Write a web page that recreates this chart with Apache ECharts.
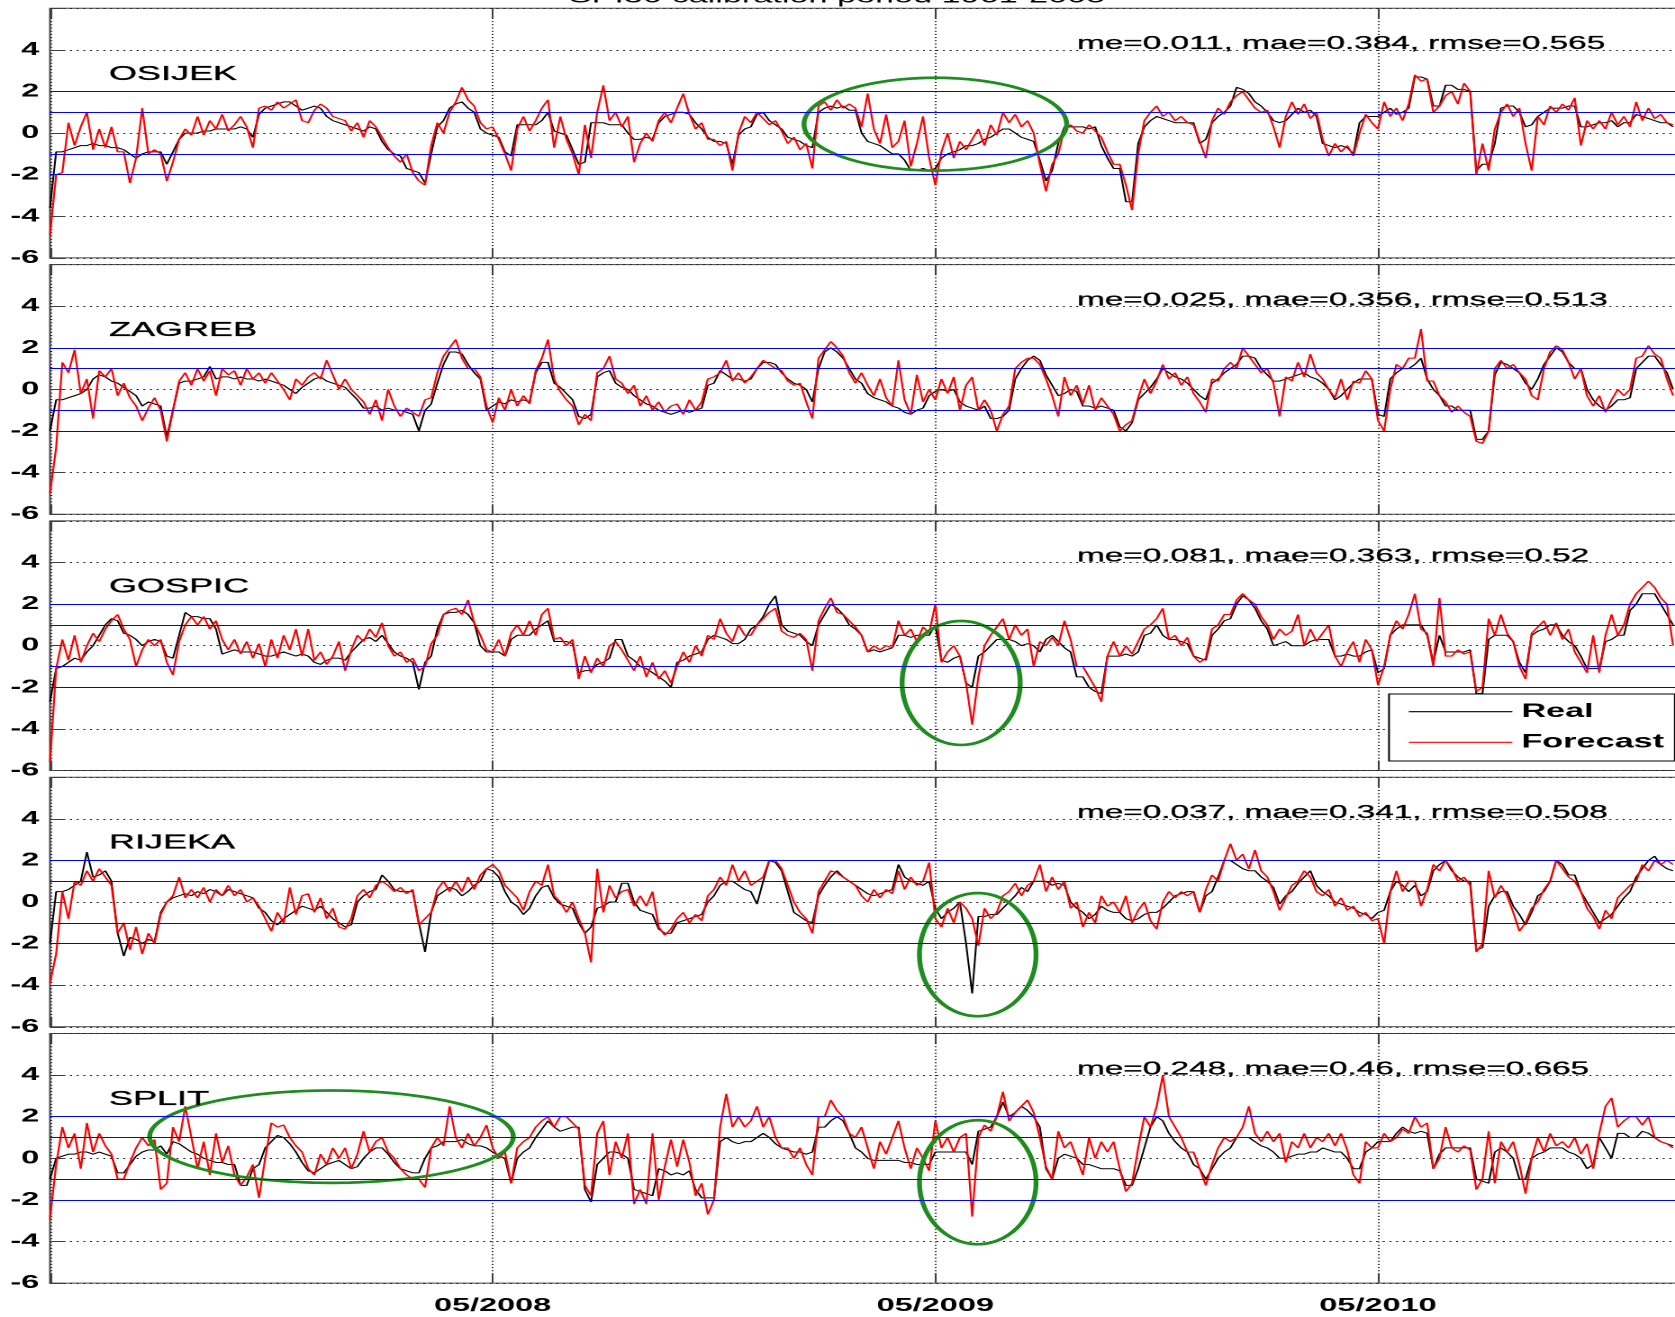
<!DOCTYPE html>
<html>
<head>
<meta charset="utf-8">
<script src="https://cdn.jsdelivr.net/npm/echarts@6/dist/echarts.min.js"></script>
<style>
  html, body { margin: 0; padding: 0; background: #fff; overflow: hidden; width: 1675px; height: 1317px; }
  /* the figure is laid out narrow and stretched sideways, like the wide original plot;
     it is a little wider than the page so the right frame falls outside */
  #chart { position: absolute; left: 0; top: 0; width: 940px; height: 1317px;
           transform: scaleX(1.8010753); transform-origin: 0 0; }
</style>
</head>
<body>
<div id="chart"></div>
<script>
// ---- sampling: six values per month, first sample at 05/2007 ----
const START_YEAR = 2007;
const START_MONTH = 5;
const STEPS_PER_MONTH = 6;
const X_MAX = 44.15;                    // axis end, just past the last sample (01/2011)

const stations = ['OSIJEK', 'ZAGREB', 'GOSPIC', 'RIJEKA', 'SPLIT'];
const scores = [
  'me=0.011, mae=0.384, rmse=0.565',
  'me=0.025, mae=0.356, rmse=0.513',
  'me=0.081, mae=0.363, rmse=0.52',
  'me=0.037, mae=0.341, rmse=0.508',
  'me=0.248, mae=0.46, rmse=0.665'
];
const titleText = 'SPI30 calibration period 1961-2005';
const yTicks = [-6, -4, -2, 0, 2, 4];
const xTickMonths = [12, 24, 36];       // 05/2008, 05/2009, 05/2010
const thresholds = [2, 1, -1, -2];

// ---- SPI30 series (one row per month) ----
const realOsijek = [
  -3.6,-0.9,-0.9,-0.8,-0.7,-0.6,
  -0.6,-0.5,-0.6,-0.6,-0.7,-0.7,
  -0.8,-1.0,-1.2,-1.0,-0.9,-0.9,
  -0.9,-1.5,-0.9,-0.3,0.0,0.0,
  0.0,0.1,0.1,0.2,0.2,0.2,
  0.2,0.3,0.2,-0.2,0.9,1.2,
  1.3,1.4,1.5,1.5,1.3,1.1,
  1.2,1.3,1.2,0.8,0.6,0.5,
  0.4,0.3,0.2,0.1,0.3,0.2,
  -0.4,-0.8,-1.0,-1.1,-1.7,-1.8,
  -1.9,-2.4,-1.0,0.3,0.6,1.2,
  1.4,1.5,1.2,1.0,0.2,0.0,
  -0.1,-0.2,-0.9,-1.1,0.4,0.4,
  0.4,0.4,0.6,1.0,0.1,0.0,
  -0.1,-0.8,-1.5,-1.4,0.5,0.5,
  0.5,0.4,0.4,0.4,0.0,-0.3,
  -0.3,-0.2,-0.3,0.5,0.8,0.9,
  1.0,1.0,0.9,0.5,0.2,-0.2,
  -0.4,-0.4,-0.5,-1.5,-0.1,0.2,
  0.3,0.9,1.0,0.6,0.4,0.2,
  -0.2,-0.3,-0.4,-0.6,-0.7,1.0,
  1.2,1.3,1.2,1.3,1.1,1.1,
  0.0,-0.4,-0.5,-0.6,-0.8,-1.0,
  -1.0,-1.3,-1.8,-1.8,-1.7,-1.8,
  -1.7,-1.2,-1.0,-0.9,-0.8,-0.6,
  -0.6,-0.5,-0.3,-0.2,0.0,0.2,
  0.2,0.0,-0.2,-0.3,-0.4,-1.3,
  -2.3,-1.8,-0.5,0.3,0.3,0.3,
  0.3,0.2,0.3,-0.6,-1.2,-1.7,
  -1.7,-3.3,-3.3,-0.5,0.3,0.6,
  0.8,0.7,0.6,0.5,0.5,0.5,
  0.5,-0.5,-0.3,0.5,0.8,1.0,
  1.3,2.2,2.1,1.9,1.5,1.3,
  1.0,0.6,0.5,0.6,0.9,1.2,
  1.0,1.1,0.8,-0.5,-0.6,-0.7,
  -0.6,-0.7,-1.0,0.5,0.8,0.8,
  0.8,1.0,1.2,0.9,1.0,1.2,
  2.7,2.7,2.6,1.3,1.3,2.3,
  2.3,2.1,2.1,2.0,-1.8,-1.5,
  -1.5,-0.5,1.2,1.3,1.3,1.0,
  0.3,0.4,0.8,1.0,1.2,1.2,
  1.2,1.3,1.3,0.3,0.3,0.4,
  0.5,0.5,0.6,0.3,0.5,0.5,
  0.9,0.8,0.7,0.6,0.5,0.5,
  0.3
];
const forecastOsijek = [
  -4.9,-2.0,-1.9,0.5,-0.6,0.3,
  1.0,-0.8,0.2,-0.7,0.3,-0.9,
  -0.9,-2.4,-1.2,1.2,-1.0,-0.8,
  -1.0,-2.3,-1.4,-0.3,0.2,-0.1,
  0.8,-0.1,0.6,0.2,0.9,0.1,
  0.4,0.8,0.3,-0.7,1.2,1.3,
  1.1,1.5,1.2,1.4,1.6,0.6,
  0.5,1.1,1.4,1.2,0.8,0.7,
  0.6,0.1,0.5,-0.2,0.6,0.3,
  -0.2,-0.7,-1.1,-1.4,-1.0,-1.9,
  -2.3,-2.5,-0.6,0.5,0.0,1.0,
  1.5,2.2,1.6,1.3,0.5,0.2,
  0.3,-0.3,-1.0,-1.8,0.2,0.8,
  0.1,0.6,1.2,1.6,-0.7,0.8,
  -0.3,-1.0,-2.0,0.4,-1.2,1.0,
  2.3,0.6,1.0,0.3,0.8,-1.4,
  -0.5,0.0,-0.4,0.6,1.0,0.5,
  1.2,1.9,0.9,0.2,0.5,-0.3,
  -0.3,-0.6,-0.4,-1.8,0.0,0.8,
  0.5,1.0,0.7,0.4,0.6,0.1,
  -0.5,-0.2,-0.8,-0.5,-1.7,1.3,
  1.5,1.1,1.6,1.2,1.4,1.2,
  0.3,1.9,0.2,-0.5,0.9,-0.7,
  -0.4,0.6,-1.6,-0.5,0.8,-1.2,
  -2.5,-0.9,0.0,-1.2,-0.4,-0.8,
  -0.3,0.2,-0.6,0.4,-0.1,1.0,
  0.5,0.9,0.3,0.6,0.0,-1.5,
  -2.8,-1.5,-1.0,0.2,0.4,0.1,
  0.0,0.4,0.1,-0.2,-0.9,-1.5,
  -1.5,-2.5,-3.7,-1.0,0.6,1.0,
  1.3,0.8,1.0,0.6,0.8,0.5,
  0.4,-0.4,-1.2,0.6,1.2,0.9,
  1.5,1.8,2.0,1.6,1.2,1.0,
  1.1,0.3,-0.7,0.8,1.5,0.9,
  1.4,0.7,1.0,-0.3,-1.1,-0.5,
  -0.9,-0.6,-1.1,0.0,0.9,0.5,
  0.2,1.5,0.8,1.2,0.6,1.4,
  2.8,2.5,2.6,1.0,1.3,1.8,
  2.0,1.4,2.4,2.0,-2.0,-0.5,
  -1.8,0.2,1.0,1.4,0.8,1.2,
  -0.5,-1.8,0.8,0.4,1.3,1.0,
  1.4,1.1,1.7,-0.6,0.6,0.2,
  0.6,0.2,1.0,0.4,0.8,0.3,
  1.5,0.6,1.2,0.7,0.9,0.5,
  0.4
];
const realZagreb = [
  -2.0,-0.5,-0.5,-0.4,-0.3,-0.2,
  0.0,0.5,0.7,0.6,0.4,0.3,
  0.1,-0.1,-0.3,-0.8,-0.6,-0.7,
  -0.8,-2.3,-1.0,0.3,0.4,0.4,
  0.5,0.6,1.1,0.5,0.6,0.6,
  0.5,0.6,0.5,0.5,0.4,0.5,
  0.4,0.3,0.2,0.0,-0.2,0.1,
  0.3,0.5,0.6,0.4,0.3,0.2,
  0.1,-0.2,-0.5,-0.9,-0.9,-0.8,
  -1.0,-0.9,-1.0,-1.0,-1.1,-1.2,
  -2.0,-1.0,-0.7,0.3,1.2,1.8,
  1.8,1.7,1.2,0.8,0.5,-1.0,
  -0.8,-0.6,-0.7,-0.5,-0.6,-0.5,
  -0.6,0.8,1.3,1.3,0.3,0.1,
  -0.2,-0.5,-1.3,-1.4,-1.2,0.6,
  0.8,0.9,0.3,0.1,0.0,-0.3,
  -0.5,-0.7,-0.8,-1.0,-1.1,-1.2,
  -1.1,-1.0,-1.1,-1.0,-0.9,0.2,
  0.3,0.9,0.7,0.5,0.5,0.4,
  0.5,1.0,1.3,1.3,1.2,0.8,
  0.5,0.3,0.2,0.0,-0.6,1.0,
  1.8,2.0,1.8,1.5,1.0,0.5,
  0.3,-0.2,-0.4,-0.5,-0.6,-0.8,
  -0.9,-1.1,-1.2,-1.0,-0.9,-0.3,
  -0.1,0.0,-0.1,0.0,-0.6,-0.8,
  -0.9,-1.0,-0.8,-1.4,-1.4,-1.3,
  -1.0,0.5,1.0,1.4,1.6,1.4,
  0.7,0.2,-0.3,-0.2,0.0,-0.1,
  -0.8,-0.8,-0.9,-0.8,-0.9,-1.0,
  -1.8,-2.0,-1.6,-0.5,-0.2,0.1,
  0.5,1.0,0.8,0.6,0.5,0.3,
  0.0,-0.3,-0.5,0.3,0.5,0.8,
  1.0,1.2,1.6,1.6,1.5,1.0,
  0.7,0.4,0.4,0.5,0.6,0.7,
  0.8,0.6,0.5,0.3,0.0,-0.5,
  -0.3,0.0,0.3,0.5,0.5,0.5,
  -1.2,-1.3,0.5,0.8,1.0,1.0,
  1.2,1.5,0.5,0.0,-0.3,-0.8,
  -0.8,-1.0,-1.0,-1.0,-2.4,-2.4,
  -2.0,0.7,1.3,1.2,1.0,0.8,
  0.3,0.0,0.5,1.2,1.6,2.0,
  1.8,1.3,1.0,1.0,0.0,-0.5,
  -0.8,-1.0,-0.8,-0.5,-0.5,-0.4,
  1.0,1.3,1.6,1.6,1.2,0.8,
  0.0
];
const forecastZagreb = [
  -5.0,-2.8,1.3,0.8,1.9,-0.2,
  0.5,-1.4,0.9,0.6,1.0,-0.3,
  0.3,-0.4,-0.8,-1.5,-0.9,-0.4,
  -1.0,-2.5,-1.0,0.4,0.8,0.2,
  1.0,0.4,0.9,-0.3,1.0,0.7,
  0.9,0.2,1.0,0.5,0.8,0.3,
  0.8,0.4,0.0,-0.5,0.5,0.2,
  0.6,0.8,0.5,1.4,0.7,0.0,
  0.5,0.0,-0.3,-0.6,-1.2,-0.5,
  -1.5,0.0,-0.8,-1.3,-0.9,-1.1,
  -1.3,-0.5,-0.4,0.8,1.6,2.0,
  2.4,1.5,1.0,1.0,0.6,-0.8,
  -1.6,-0.4,-1.0,0.0,-0.8,-0.3,
  -0.7,0.9,1.5,2.4,0.5,-0.1,
  -0.5,-0.8,-1.7,-1.2,-1.5,0.8,
  1.0,1.6,0.5,0.3,-0.2,0.2,
  -0.8,-0.3,-1.0,-0.6,-1.1,-0.8,
  -0.7,-1.2,-0.5,-1.0,-0.6,0.5,
  0.6,0.8,1.4,0.4,0.8,0.3,
  0.6,1.0,1.4,1.2,1.0,0.9,
  0.4,0.2,0.3,-0.6,-1.4,1.5,
  1.9,2.3,2.0,1.6,0.8,0.3,
  0.8,0.2,-0.3,0.5,-0.4,-0.8,
  1.4,-0.5,-1.2,0.7,-0.6,0.0,
  -0.5,0.5,-0.2,0.6,-1.0,0.2,
  0.6,-1.0,-0.5,-1.0,-2.0,-1.2,
  -0.8,1.0,1.3,1.5,1.5,1.2,
  0.5,-0.3,-1.3,0.6,-0.3,0.2,
  -0.7,0.2,-1.0,-0.4,-0.8,-1.2,
  -2.0,-1.7,-1.5,-0.4,0.5,-0.2,
  0.4,1.2,0.5,0.8,0.2,0.6,
  -0.2,-0.6,-1.1,0.5,0.4,1.0,
  1.3,1.0,2.0,1.6,1.2,0.8,
  1.0,0.3,-1.3,0.6,0.4,1.3,
  0.6,1.7,0.8,0.5,0.0,-0.4,
  0.5,-0.5,0.4,0.3,0.9,0.5,
  -1.5,-2.0,0.0,1.2,1.0,1.5,
  1.5,2.9,0.4,0.4,-0.3,-0.6,
  -1.1,-0.8,-1.1,-1.3,-2.5,-2.6,
  -2.0,1.0,1.4,1.0,1.2,0.8,
  0.5,-0.3,-0.5,1.0,1.8,2.1,
  1.9,1.3,0.5,1.0,-0.3,-0.8,
  -0.3,-1.1,-0.5,0.0,-0.3,0.0,
  1.5,1.6,2.1,1.7,1.5,0.5,
  -0.3
];
const realGospic = [
  -2.7,-1.1,-1.0,-0.8,-0.6,-0.7,
  -0.3,0.0,0.5,1.0,1.3,1.2,
  0.6,0.5,0.3,0.0,0.2,0.3,
  0.2,-0.5,-0.6,0.5,1.6,1.4,
  1.4,1.3,1.3,0.8,-0.4,-0.3,
  -0.2,-0.3,-0.3,-0.3,-0.4,-0.5,
  -0.5,-0.4,-0.3,-0.4,-0.5,-0.4,
  -0.5,-0.8,-0.9,-0.7,-0.6,-0.6,
  -0.7,-0.3,0.0,0.3,0.4,0.2,
  0.5,0.1,-0.3,-0.5,-0.6,-0.8,
  -2.1,-0.8,-0.5,0.8,1.5,1.6,
  1.6,1.7,1.5,1.1,0.0,-0.3,
  -0.3,-0.3,-0.5,0.3,0.5,0.5,
  0.5,0.8,1.0,1.2,0.2,0.2,
  0.2,0.1,-1.3,-1.2,-1.2,-0.9,
  -0.8,-0.6,0.3,0.3,-0.5,-0.7,
  -1.0,-1.1,-1.3,-1.5,-1.7,-2.0,
  -0.8,-0.7,-0.5,-0.4,-0.3,0.3,
  0.5,0.4,0.3,0.1,0.1,0.3,
  0.8,1.0,1.4,2.0,2.4,1.0,
  0.7,0.6,0.5,0.2,0.0,1.0,
  1.5,2.0,1.8,1.5,1.0,0.8,
  0.5,-0.3,-0.2,-0.3,-0.2,-0.1,
  0.5,0.5,0.4,0.5,0.5,0.5,
  1.0,-0.7,-0.8,-0.6,-0.5,-1.8,
  -2.0,-0.5,-0.3,0.0,0.3,0.3,
  0.3,0.2,0.0,0.1,0.0,-0.3,
  0.3,0.5,0.2,-0.1,-0.3,-1.5,
  -1.5,-2.0,-2.2,-2.3,-0.5,-0.5,
  -0.5,-0.4,-0.5,-0.3,0.5,0.6,
  1.0,0.5,0.3,0.3,0.2,0.1,
  -0.5,-0.6,-0.7,0.5,0.8,1.2,
  1.3,2.0,2.4,2.2,1.8,1.2,
  0.8,0.0,0.1,0.2,0.0,0.0,
  0.0,0.2,0.3,0.3,0.3,-0.5,
  -0.5,-0.4,-0.5,-0.5,-0.3,-0.2,
  -1.3,-1.1,0.5,0.8,1.0,1.0,
  1.0,1.0,0.5,-0.8,0.5,-0.3,
  -0.3,-0.3,-0.3,-0.2,-2.3,-2.3,
  0.3,0.5,0.5,0.5,0.2,-0.8,
  -1.3,0.5,0.7,0.8,1.0,1.0,
  0.5,0.2,0.0,-0.5,-1.1,-1.1,
  -1.1,0.2,0.3,0.5,0.5,1.7,
  2.0,2.5,2.5,2.5,2.0,1.5,
  1.0
];
const forecastGospic = [
  -5.6,-1.1,0.3,-0.7,0.5,-0.8,
  0.0,0.6,0.2,0.8,1.2,1.5,
  0.8,0.3,-1.0,-0.2,0.3,0.0,
  0.3,-0.8,-1.4,0.2,1.0,1.4,
  1.0,1.4,0.8,1.2,0.3,-0.2,
  0.3,-0.4,0.2,-0.6,0.1,-1.0,
  0.3,-0.6,0.5,-0.2,0.8,-0.5,
  0.8,-0.7,-0.3,-0.9,-0.5,0.2,
  -1.2,-0.2,0.5,0.2,0.8,0.4,
  1.1,0.0,-0.5,-0.3,-0.8,-0.6,
  -1.2,-1.0,0.1,0.5,1.5,1.7,
  1.8,1.5,2.2,1.1,0.5,-0.2,
  -0.3,0.3,-0.5,0.6,1.0,0.5,
  1.2,0.5,1.5,1.8,0.3,0.4,
  0.0,0.3,-1.6,-0.5,-1.3,-0.6,
  -1.0,0.0,0.2,-0.2,-0.7,-1.2,
  -0.5,-1.5,-0.8,-1.6,-1.2,-1.8,
  -1.0,-0.3,-0.8,0.0,-0.5,0.5,
  0.3,1.3,0.6,0.2,1.0,0.5,
  0.5,1.0,1.3,1.6,1.8,0.7,
  0.5,0.4,0.6,0.3,-1.2,1.2,
  1.8,2.3,1.6,1.5,1.2,0.9,
  0.5,-0.3,0.0,-0.2,0.0,-0.1,
  1.2,0.5,0.8,0.2,0.9,0.6,
  2.0,-0.8,-0.3,0.0,-0.5,-1.8,
  -3.8,-1.5,0.0,0.5,0.9,1.3,
  0.3,1.0,0.5,0.8,-1.0,0.2,
  0.0,0.4,0.0,1.2,0.3,-1.0,
  -1.0,-1.5,-2.0,-2.7,-0.5,0.2,
  -0.5,0.0,-0.4,0.2,0.8,1.0,
  1.3,1.8,0.3,0.5,0.0,0.4,
  -0.5,-0.8,-0.6,0.8,1.0,1.5,
  1.5,2.2,2.5,2.2,2.0,1.4,
  1.0,0.3,0.8,0.5,0.7,1.5,
  0.0,0.8,0.2,0.6,1.0,-0.5,
  -1.0,-0.3,0.2,-0.8,0.3,-0.2,
  -1.9,-1.0,0.5,1.2,0.8,1.5,
  2.5,0.8,0.6,-1.0,2.3,-0.5,
  -0.5,-0.2,-0.4,-0.3,-2.2,-2.0,
  1.3,0.5,1.5,0.6,0.2,-1.0,
  -1.6,0.6,0.9,1.2,0.5,1.1,
  0.3,0.8,-0.3,-0.8,-1.3,0.5,
  -1.3,0.5,1.5,0.5,1.0,2.0,
  2.5,2.8,3.1,2.8,2.3,2.0,
  0.0
];
const realRijeka = [
  -2.0,0.5,0.5,0.6,0.8,1.0,
  2.4,1.2,1.3,1.5,1.0,-1.5,
  -2.6,-1.7,-1.8,-2.0,-1.8,-1.9,
  -0.5,0.0,0.2,0.3,0.4,0.3,
  0.5,0.4,0.6,0.5,0.3,0.6,
  0.5,0.4,0.3,0.2,-0.3,-0.5,
  -0.9,-1.1,-0.8,-0.6,-0.4,-0.2,
  -0.3,-0.4,-0.2,-0.5,-0.8,-1.0,
  -1.2,-1.1,0.0,0.3,0.5,0.6,
  1.3,1.0,0.6,0.5,0.5,0.5,
  -1.0,-2.4,-0.5,0.3,0.5,0.7,
  0.6,0.3,0.5,0.8,1.0,1.6,
  1.5,1.2,0.5,0.0,-0.2,-0.6,
  -0.3,0.3,0.7,0.8,0.2,-0.1,
  -0.2,-0.3,-1.0,-1.5,-1.2,-0.3,
  -0.2,0.0,0.0,0.9,0.9,0.0,
  -0.4,-0.5,-0.6,-1.3,-1.5,-1.5,
  -1.0,-0.9,-0.8,-0.7,-0.6,0.0,
  0.3,0.8,1.0,1.0,0.8,0.6,
  0.5,-0.1,1.0,2.0,1.9,1.5,
  0.5,-0.5,-0.7,-0.9,-1.0,0.3,
  0.8,1.2,1.5,1.2,1.0,0.8,
  0.6,0.4,0.3,0.4,0.5,0.6,
  1.8,1.2,1.0,0.9,0.8,1.0,
  -0.3,-0.8,-0.5,-0.3,0.0,-2.0,
  -4.4,-0.7,-0.7,-0.6,-0.6,-0.3,
  0.0,0.3,0.7,0.5,1.0,1.0,
  1.0,0.8,0.9,0.8,0.0,-0.3,
  -0.5,-0.8,-0.6,-0.2,-0.4,-0.5,
  -0.5,-0.8,-0.9,-0.8,-0.6,-0.5,
  -0.5,-0.3,0.0,0.3,0.4,0.5,
  0.5,-0.5,0.3,0.5,1.2,2.0,
  2.0,1.8,1.6,1.5,1.5,1.2,
  1.0,0.7,-0.1,0.3,0.5,0.9,
  1.2,1.5,0.8,0.5,0.3,0.0,
  -0.1,-0.2,-0.3,-0.5,-0.6,-0.8,
  -0.5,-0.4,0.5,1.0,0.8,0.5,
  0.8,0.3,0.5,1.5,1.8,2.0,
  1.5,1.2,1.0,1.0,-2.3,-2.2,
  -0.2,0.3,0.5,0.5,-0.2,-0.6,
  -1.1,-0.5,0.3,0.5,1.0,2.0,
  1.8,1.3,1.3,0.5,0.0,-0.5,
  -1.0,-0.8,-0.6,-0.2,0.2,0.5,
  1.2,1.6,2.0,2.2,1.8,1.6,
  1.5
];
const forecastRijeka = [
  -3.9,-2.5,0.5,-0.8,1.0,0.8,
  1.5,1.0,1.6,1.2,0.8,-1.5,
  -1.0,-2.3,-1.2,-2.5,-1.5,-2.0,
  -0.6,0.0,0.3,1.2,0.2,0.6,
  0.2,0.7,0.0,0.6,0.3,0.8,
  0.3,0.6,0.0,0.2,-0.2,-0.8,
  -1.4,-0.5,-1.0,0.7,-0.6,0.3,
  0.4,-0.5,0.2,-0.8,-0.3,-1.2,
  -1.3,-0.8,0.3,0.6,0.2,0.8,
  1.0,0.8,0.5,0.7,0.4,0.6,
  -1.1,-0.8,-0.5,0.6,1.0,0.5,
  1.0,0.5,1.2,0.6,1.3,1.6,
  1.8,1.5,0.8,0.5,0.2,-0.4,
  0.5,1.0,0.8,1.8,0.3,0.0,
  -0.5,0.0,-0.8,-1.5,-2.9,1.6,
  -0.5,0.8,0.2,0.5,0.6,-0.2,
  0.3,-0.2,0.5,-1.2,-1.6,-1.3,
  -0.8,-0.5,-1.0,-0.6,-0.9,0.3,
  0.6,1.2,0.8,1.8,1.0,1.5,
  0.8,1.0,1.2,2.0,2.0,1.6,
  0.8,0.0,-0.5,-0.8,-1.5,0.5,
  1.0,1.5,1.4,1.2,1.0,0.8,
  0.3,0.0,0.6,0.2,0.6,0.4,
  1.5,0.6,1.2,0.8,1.0,1.9,
  -0.8,-1.2,-0.3,-1.0,0.0,-0.3,
  -0.8,-2.1,-0.3,-0.8,-0.5,0.3,
  0.5,0.9,0.3,0.8,1.0,1.8,
  0.5,1.2,0.6,1.0,-0.3,0.0,
  -1.2,-0.5,-1.0,0.3,-0.2,0.0,
  -0.5,0.3,-1.0,-0.4,0.0,-0.9,
  -1.3,0.0,0.5,0.2,0.5,0.3,
  0.5,-0.5,0.6,1.3,1.0,2.0,
  2.8,2.0,2.3,1.6,2.5,1.5,
  1.2,0.5,-0.4,0.2,0.8,1.0,
  1.5,1.2,0.5,0.3,0.6,-0.2,
  0.2,-0.4,-0.2,-0.7,-0.5,-0.9,
  -0.8,-2.0,0.5,1.5,0.5,1.0,
  1.0,-0.2,0.6,1.8,1.5,2.0,
  1.6,1.0,1.2,0.8,-2.4,-2.0,
  1.5,0.2,0.8,0.3,-0.5,-1.4,
  -1.0,-0.3,0.0,0.6,1.0,2.0,
  1.6,1.2,1.0,0.5,-0.3,-0.7,
  -1.3,-0.4,-0.8,0.2,0.5,0.8,
  1.0,1.8,1.5,2.0,1.8,2.0,
  1.8
];
const realSplit = [
  -1.0,0.0,0.1,0.2,0.2,0.3,
  0.3,0.2,0.3,0.2,0.1,-0.7,
  -0.7,-0.3,0.1,0.3,0.4,0.4,
  0.6,0.2,0.8,0.7,0.5,0.3,
  0.2,0.0,-0.1,-0.2,-0.2,-0.3,
  -0.3,-1.3,-1.3,-0.5,-0.3,0.5,
  0.8,1.1,1.0,0.7,0.3,-0.2,
  -0.6,-0.7,-0.5,-0.3,-0.2,-0.1,
  -0.3,-0.5,-0.4,0.0,0.3,0.5,
  0.5,0.2,-0.2,-0.5,-0.6,-0.7,
  -0.7,0.0,0.5,0.6,0.8,0.8,
  0.8,0.9,0.7,0.6,0.6,0.5,
  0.3,0.1,0.0,-1.2,0.0,0.3,
  0.5,1.0,1.4,1.8,1.5,1.3,
  1.4,1.5,1.5,-1.5,-2.1,-0.3,
  0.0,0.3,0.3,0.2,0.0,-1.5,
  -1.6,-1.7,-1.8,-0.5,-0.6,-0.8,
  -0.7,-0.8,-0.6,-1.5,-1.9,-1.9,
  -1.9,0.8,1.0,0.8,0.7,0.8,
  0.8,1.0,1.2,1.0,0.7,0.5,
  0.4,0.3,0.3,0.2,0.3,1.5,
  1.5,1.8,2.0,1.8,1.2,0.5,
  0.3,0.0,-0.1,-0.1,-0.1,-0.1,
  -0.1,-0.2,-0.2,-0.3,-0.3,-0.3,
  0.3,0.3,0.3,0.3,0.3,0.3,
  -0.3,1.3,1.4,1.5,2.0,2.7,
  2.0,2.2,2.5,2.3,2.0,1.5,
  -0.5,-1.0,0.0,0.2,0.1,0.0,
  -0.3,-0.3,-0.4,-0.5,-0.5,-0.5,
  -0.6,-1.3,-1.3,-0.5,0.5,1.5,
  2.0,1.8,1.2,0.8,0.5,0.3,
  -0.3,-0.5,-1.0,-0.5,0.0,0.3,
  0.5,1.0,1.0,1.0,0.8,0.6,
  0.5,0.3,0.0,0.0,0.1,0.2,
  0.2,0.3,0.3,0.5,0.4,0.3,
  0.3,0.0,-0.5,-0.5,0.3,0.5,
  0.8,0.8,0.8,1.2,1.5,1.3,
  1.2,1.3,1.2,-0.5,0.2,0.5,
  0.5,0.5,0.5,0.5,-1.0,-1.1,
  -1.2,0.3,0.5,0.3,0.0,-1.0,
  -1.0,0.0,0.2,0.3,0.5,0.5,
  0.5,0.3,0.2,0.0,-0.5,-0.3,
  1.0,0.5,0.0,1.2,1.2,1.0,
  1.0,1.3,1.2,1.0,0.8,0.7,
  0.6
];
const forecastSplit = [
  -2.9,-0.3,1.5,0.5,1.2,-0.5,
  1.7,0.3,1.2,0.6,0.2,-1.0,
  -1.0,-0.2,0.5,1.0,0.6,0.9,
  -1.5,-1.2,1.5,0.8,2.5,1.0,
  -0.5,0.8,-0.8,1.2,-0.2,0.6,
  -0.8,-1.3,-0.9,-0.3,-1.9,0.0,
  1.7,1.5,1.6,1.0,0.6,0.3,
  -0.5,-0.8,0.2,-0.3,0.5,0.0,
  0.5,-0.5,0.2,1.3,0.3,0.8,
  1.0,0.3,0.0,-0.5,-0.8,-1.0,
  -1.0,-1.4,0.5,1.0,0.6,2.5,
  1.0,0.5,1.2,0.6,1.0,1.6,
  0.5,0.0,0.3,-1.2,0.5,0.8,
  1.0,1.5,1.8,2.0,1.5,2.0,
  2.0,1.7,1.4,-1.3,-1.8,1.2,
  1.8,-0.8,0.8,0.0,1.2,-2.2,
  -1.5,-2.2,1.2,-2.0,-0.4,0.9,
  -0.4,0.9,-0.2,-1.8,-1.2,-2.7,
  -2.0,1.5,3.1,1.5,2.0,1.5,
  1.8,2.5,1.5,2.0,1.0,0.5,
  0.5,0.0,0.5,-0.3,-0.8,2.0,
  2.0,2.8,2.3,2.0,1.2,1.0,
  1.5,0.5,-0.5,0.8,0.2,1.0,
  1.8,0.5,-0.5,0.5,0.0,-0.6,
  1.8,0.5,1.0,0.3,1.0,1.2,
  -2.8,1.0,1.6,1.3,2.0,3.2,
  1.8,2.2,2.5,2.8,2.2,1.0,
  -0.4,-1.0,1.3,0.5,0.8,0.0,
  -0.8,1.0,0.0,0.8,0.3,0.8,
  -0.5,-1.6,-1.2,0.5,2.0,1.5,
  2.5,4.0,2.0,1.5,1.0,0.3,
  0.3,-0.5,-1.3,-0.3,0.5,1.0,
  0.8,1.0,1.5,2.5,1.2,0.8,
  1.3,0.8,1.2,-0.2,0.8,0.5,
  1.2,0.5,1.0,0.8,1.2,0.6,
  1.2,0.4,-0.8,-1.2,0.8,0.5,
  0.5,1.2,0.8,1.0,1.4,1.2,
  2.0,1.5,1.7,-0.5,0.0,1.5,
  0.5,0.3,0.6,0.4,-1.5,-1.0,
  1.3,-1.2,0.8,0.3,0.8,-0.3,
  -1.7,0.0,1.0,0.3,1.2,0.6,
  0.8,0.5,1.0,0.2,0.7,-0.5,
  1.2,2.5,2.9,1.5,1.8,2.0,
  2.0,1.6,2.0,1.0,0.8,0.7,
  0.5
];

// ---- highlighted episodes: [centre month, centre SPI, half-width (months), half-height (SPI)] ----
const ringsOsijek = [[24.0, 0.43, 3.56, 2.23]];
const ringsZagreb = [];
const ringsGospic = [[24.7, -1.79, 1.60, 2.98]];
const ringsRijeka = [[25.15, -2.53, 1.58, 2.96]];
const ringsSplit = [[7.63, 1.04, 4.93, 2.22], [25.15, -1.15, 1.58, 2.98]];

// ---- layout (css px before the sideways stretch) ----
const S = 1675 / 930;
const CHART_W = 940;
const PLOT_LEFT = 50 / S;
const PLOT_RIGHT = CHART_W - 932;       // right frame sits just past the page edge
const PANEL_TOP0 = 8.3, PANEL_STEP = 256.3, PANEL_H = 249.6;
const FONT = '"Liberation Sans", Arial, Helvetica, sans-serif';
const FRAME = '#404040';
const GRID_DOT = '#222222';
const RED = '#ff0000', BLACK = '#000000', BLUE = '#0000ff', GREEN = '#1e8c1e';

const panels = [
  { name: stations[0], score: scores[0], real: realOsijek, forecast: forecastOsijek, rings: ringsOsijek },
  { name: stations[1], score: scores[1], real: realZagreb, forecast: forecastZagreb, rings: ringsZagreb },
  { name: stations[2], score: scores[2], real: realGospic, forecast: forecastGospic, rings: ringsGospic },
  { name: stations[3], score: scores[3], real: realRijeka, forecast: forecastRijeka, rings: ringsRijeka },
  { name: stations[4], score: scores[4], real: realSplit, forecast: forecastSplit, rings: ringsSplit }
];

const toPairs = arr => arr.map((v, i) => [i / STEPS_PER_MONTH, v]);

function monthLabel(m) {
  const t = START_MONTH - 1 + Math.round(m);
  const mm = (t % 12) + 1;
  const yy = START_YEAR + Math.floor(t / 12);
  return (mm < 10 ? '0' : '') + mm + '/' + yy;
}

function renderRing(params, api) {
  const c = api.coord([api.value(0), api.value(1)]);
  const s = api.size([api.value(2), api.value(3)]);
  const pts = [];
  for (let k = 0; k <= 120; k++) {
    const t = (k / 120) * Math.PI * 2;
    pts.push([c[0] + s[0] * Math.cos(t), c[1] + s[1] * Math.sin(t)]);
  }
  return {
    type: 'polyline',
    shape: { points: pts },
    style: { fill: null, stroke: GREEN, lineWidth: 2.7 }
  };
}

const grid = [], xAxis = [], yAxis = [], series = [], graphic = [];

graphic.push({
  type: 'text', x: 837 / S, y: -2.6, silent: true,
  style: { text: titleText, fontFamily: FONT, fontSize: 19, fill: '#000', align: 'center', verticalAlign: 'middle' }
});

panels.forEach((p, k) => {
  const top = PANEL_TOP0 + PANEL_STEP * k;
  const last = k === panels.length - 1;
  grid.push({ left: PLOT_LEFT, right: PLOT_RIGHT, top: top, height: PANEL_H, show: true,
              borderColor: FRAME, borderWidth: 1, backgroundColor: 'transparent' });

  const xCommon = {
    type: 'value', gridIndex: k, min: 0, max: X_MAX, interval: 12,
    axisLine: { show: false, onZero: false },
    axisTick: { show: true, inside: true, length: 10, lineStyle: { color: FRAME, width: 1 } }
  };
  xAxis.push(Object.assign({}, xCommon, {
    position: 'bottom',
    splitLine: { show: true, lineStyle: { color: GRID_DOT, width: 1, type: [1, 2.2] } },
    axisLabel: {
      show: last, margin: 14, fontFamily: FONT, fontSize: 18, fontWeight: 'bold', color: '#000',
      formatter: v => (xTickMonths.indexOf(v) >= 0 ? monthLabel(v) : '')
    }
  }));
  xAxis.push(Object.assign({}, xCommon, {
    position: 'top', splitLine: { show: false }, axisLabel: { show: false }
  }));

  yAxis.push({
    type: 'value', gridIndex: k, min: -6, max: 6, interval: 2,
    axisLine: { show: false, onZero: false },
    axisTick: { show: true, inside: true, length: 8, lineStyle: { color: FRAME, width: 1 } },
    splitLine: { show: true, lineStyle: { color: GRID_DOT, width: 1, type: [1.1, 2.6] } },
    axisLabel: {
      margin: 6, fontFamily: FONT, fontSize: 18, fontWeight: 'bold', color: '#000',
      formatter: v => (yTicks.indexOf(v) >= 0 ? String(v) : '')
    }
  });

  series.push({
    name: 'Real', type: 'line', xAxisIndex: 2 * k, yAxisIndex: k,
    data: toPairs(p.real), symbol: 'none', showSymbol: false, z: 2,
    color: BLACK, lineStyle: { color: BLACK, width: 1 }, itemStyle: { color: BLACK },
    markLine: {
      silent: true, symbol: ['none', 'none'], label: { show: false },
      lineStyle: { color: BLUE, width: 1, type: 'solid' },
      data: thresholds.map(v => ({ yAxis: v }))
    }
  });
  series.push({
    name: 'Forecast', type: 'line', xAxisIndex: 2 * k, yAxisIndex: k,
    data: toPairs(p.forecast), symbol: 'none', showSymbol: false, z: 3,
    color: RED, lineStyle: { color: RED, width: 1.1 }, itemStyle: { color: RED }
  });
  if (p.rings.length) {
    series.push({
      type: 'custom', xAxisIndex: 2 * k, yAxisIndex: k, data: p.rings,
      renderItem: renderRing, z: 4, silent: true, clip: false,
      encode: { x: 0, y: 1 }
    });
  }

  graphic.push({
    type: 'text', x: 60.5, y: top + 66, silent: true, z: 10,
    style: { text: p.name, fontFamily: FONT, fontSize: 20, fill: '#000', stroke: '#000', lineWidth: 0.35,
             align: 'left', verticalAlign: 'middle' }
  });
  graphic.push({
    type: 'text', x: 1077 / S, y: top + 35.7, silent: true, z: 10,
    style: { text: p.score, fontFamily: FONT, fontSize: 18.5, fill: '#000', stroke: '#000', lineWidth: 0.3,
             align: 'left', verticalAlign: 'middle' }
  });
});

const chart = echarts.init(document.getElementById('chart'), null, { renderer: 'canvas', devicePixelRatio: 2 });
chart.setOption({
  animation: false,
  backgroundColor: '#ffffff',
  grid: grid,
  xAxis: xAxis,
  yAxis: yAxis,
  legend: {
    data: ['Real', 'Forecast'], orient: 'vertical',
    left: 1389 / S, top: 694, icon: 'rect',
    itemWidth: 57.5, itemHeight: 1.2, itemGap: 10.6,
    padding: [7.7, 6, 8.7, 11],
    backgroundColor: '#ffffff', borderColor: '#000000', borderWidth: 1, borderRadius: 0,
    selectedMode: false, z: 20,
    textStyle: { fontFamily: FONT, fontSize: 19, fontWeight: 'bold', color: '#000', lineHeight: 20 }
  },
  graphic: graphic,
  series: series
});
</script>
</body>
</html>
